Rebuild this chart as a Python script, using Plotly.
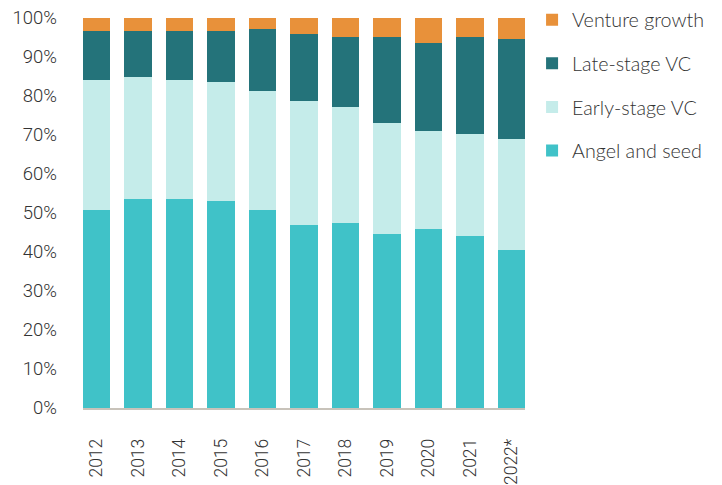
import plotly.graph_objects as go

years = ["2012", "2013", "2014", "2015", "2016", "2017", "2018", "2019", "2020", "2021", "2022*"]

# Share of deal value by stage (%)
angel_seed = [50.8, 53.7, 53.7, 53.0, 50.8, 46.8, 47.5, 44.7, 46.0, 44.0, 40.6]
early_stage = [33.3, 31.1, 30.4, 30.5, 30.6, 31.8, 29.8, 28.4, 25.0, 26.3, 28.4]
late_stage = [12.5, 11.8, 12.5, 13.1, 15.9, 17.2, 17.8, 22.1, 22.7, 24.9, 25.5]
venture_growth = [3.4, 3.4, 3.4, 3.4, 2.7, 4.2, 4.9, 4.8, 6.3, 4.8, 5.5]

# (name, values, colour, legend position from top)
series = [
    ("Angel and seed", angel_seed, "#40C2C8", 4),
    ("Early-stage VC", early_stage, "#C5ECEA", 3),
    ("Late-stage VC", late_stage, "#24737A", 2),
    ("Venture growth", venture_growth, "#E8913A", 1),
]

tick_font = "Roboto, sans-serif"
legend_font = "Lato, sans-serif"
text_color = "#333333"

fig = go.Figure()
for name, vals, color, rank in series:
    fig.add_trace(go.Bar(
        x=years, y=vals, name=name,
        legendgroup=name,
        legendrank=rank,
        marker=dict(color=color, line=dict(width=0)),
    ))

fig.update_layout(
    width=722, height=485,
    barmode="stack",
    bargap=0.34,
    paper_bgcolor="white",
    plot_bgcolor="white",
    margin=dict(l=83, r=197, t=18, b=77, autoexpand=False),
    font=dict(family=tick_font, size=18, color=text_color, weight=300),
    showlegend=True,
    legend=dict(
        traceorder="grouped",
        x=1.016, xanchor="left",
        y=1.045, yanchor="top",
        font=dict(family=legend_font, size=19.7, color=text_color),
        itemsizing="constant",
        tracegroupgap=15,
        itemwidth=30,
        bgcolor="rgba(0,0,0,0)",
    ),
    xaxis=dict(
        type="category",
        range=[-0.33, 10.33],
        tickangle=-90,
        automargin=False,
        showgrid=False,
        showline=True,
        linecolor="#C8C3BA",
        linewidth=1.5,
        ticks="",
        ticklabelstandoff=22,
        tickfont=dict(family=tick_font, size=17.5, color=text_color, weight=300),
    ),
    yaxis=dict(
        range=[0, 100],
        automargin=False,
        tickvals=[0, 10, 20, 30, 40, 50, 60, 70, 80, 90, 100],
        ticktext=[f"{v}%" for v in range(0, 101, 10)],
        showgrid=False,
        zeroline=False,
        showline=False,
        ticks="",
        ticklabelstandoff=25,
        tickfont=dict(family=tick_font, size=18.5, color=text_color, weight=300),
    ),
)

fig.write_html("out.html")
